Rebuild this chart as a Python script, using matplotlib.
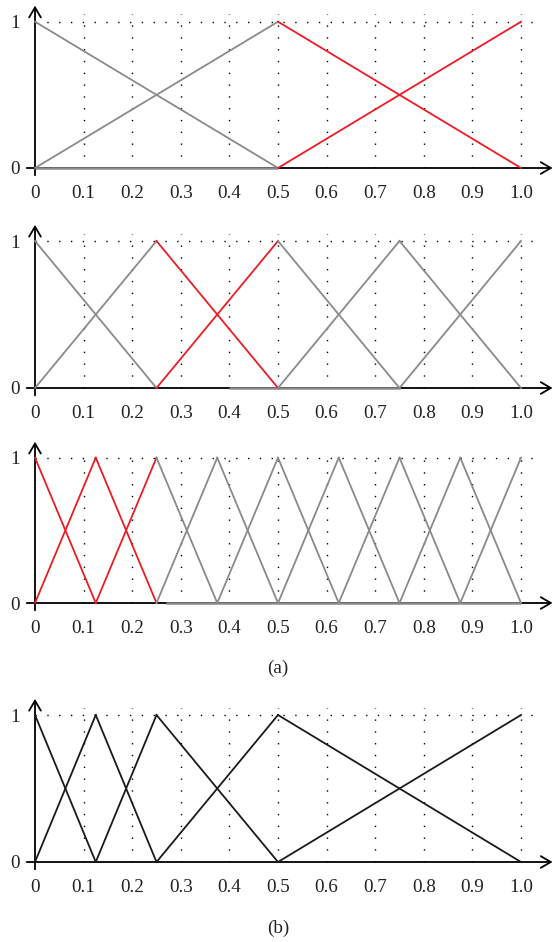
import matplotlib
matplotlib.use('Agg')
import matplotlib.pyplot as plt

plt.rcParams['font.family'] = ['Liberation Serif', 'DejaVu Serif']

# peaks of the triangular membership functions
peaks_a1 = [0.0, 0.5, 1.0]
peaks_a2 = [0.0, 0.25, 0.5, 0.75, 1.0]
peaks_a3 = [0.0, 0.125, 0.25, 0.375, 0.5, 0.625, 0.75, 0.875, 1.0]
peaks_b = [0.0, 0.125, 0.25, 0.5, 1.0]

# interval drawn in red for each (a) panel
red_a1 = (0.5, 1.0)
red_a2 = (0.25, 0.5)
red_a3 = (0.0, 0.25)

# grey stretch lying on the x axis
base_a1 = (0.0, 0.5)
base_a2 = (0.4, 0.75)
base_a3 = (0.27, 1.0)

x_ticks = [0.0, 0.1, 0.2, 0.3, 0.4, 0.5, 0.6, 0.7, 0.8, 0.9, 1.0]
x_ticklabels = ['0', '0.1', '0.2', '0.3', '0.4', '0.5', '0.6', '0.7', '0.8', '0.9', '1.0']
y_ticks = [0, 1]
y_ticklabels = ['0', '1']

W, H = 555, 942
fig = plt.figure(figsize=(W / 100, H / 100), dpi=100)

# pixel rows of y=1 and y=0 in each panel
rows = [(21.7, 168), (241, 388), (457.7, 603), (715, 862)]
panels = [
    (peaks_a1, red_a1, base_a1),
    (peaks_a2, red_a2, base_a2),
    (peaks_a3, red_a3, base_a3),
    (peaks_b, None, None),
]

GREY = '#8a8a8a'
RED = '#ec1c24'
lo, hi = -0.12, 1.13

for (y1px, y0px), (peaks, red, base) in zip(rows, panels):
    s = y0px - y1px
    bottom = y0px + (-lo) * s
    top = y1px - (hi - 1) * s
    ax = fig.add_axes([0, 1 - bottom / H, 1, (bottom - top) / H])
    ax.set_xlim(-35 / 486, 520 / 486)
    ax.set_ylim(lo, hi)
    ax.patch.set_alpha(0)
    for sp in ax.spines.values():
        sp.set_visible(False)
    ax.spines['bottom'].set_position(('data', 0))
    ax.spines['left'].set_position(('data', 0))

    ax.set_xticks(x_ticks, x_ticklabels)
    ax.set_yticks(y_ticks, y_ticklabels)
    ax.tick_params(axis='x', length=0, pad=12, labelsize=13.8, colors='#222222')
    ax.tick_params(axis='y', length=0, pad=11, labelsize=13.8, colors='#222222')

    # dotted grid
    dots = (0, (1, 7.5))
    ax.vlines(x_ticks[1:], 0, 1.05, colors='black', linestyles=dots, lw=1.0, zorder=1)
    ax.hlines(1, 0, 1.03, colors='black', linestyles=dots, lw=1.0, zorder=1)

    # axes with arrow heads
    arrow = dict(arrowstyle='->,head_length=0.6,head_width=0.35', lw=1.3,
                 color='black', shrinkA=0, shrinkB=0, mutation_scale=12)
    ax.annotate('', xy=(1.065, 0), xytext=(-0.017, 0), arrowprops=arrow,
                annotation_clip=False, zorder=2)
    ax.annotate('', xy=(0, 1.11), xytext=(0, -0.05), arrowprops=arrow,
                annotation_clip=False, zorder=2)

    if base is not None:
        ax.plot(base, [0, 0], color=GREY, lw=1.8, zorder=3, solid_capstyle='butt')

    n = len(peaks)
    for i, p in enumerate(peaks):
        segs = []
        if i > 0:
            segs.append(([peaks[i - 1], p], [0, 1]))
        if i < n - 1:
            segs.append(([p, peaks[i + 1]], [1, 0]))
        for xs, ys in segs:
            if red is None:
                c = '#1a1a1a'
            elif red[0] <= min(xs) and max(xs) <= red[1]:
                c = RED
            else:
                c = GREY
            ax.plot(xs, ys, color=c, lw=1.3, zorder=4, clip_on=False)

fig.text(278 / W, 1 - 668 / H, '(a)', ha='center', va='center', fontsize=13.8, color='#222222')
fig.text(278 / W, 1 - 928 / H, '(b)', ha='center', va='center', fontsize=13.8, color='#222222')

fig.savefig('out.png', dpi=100)
